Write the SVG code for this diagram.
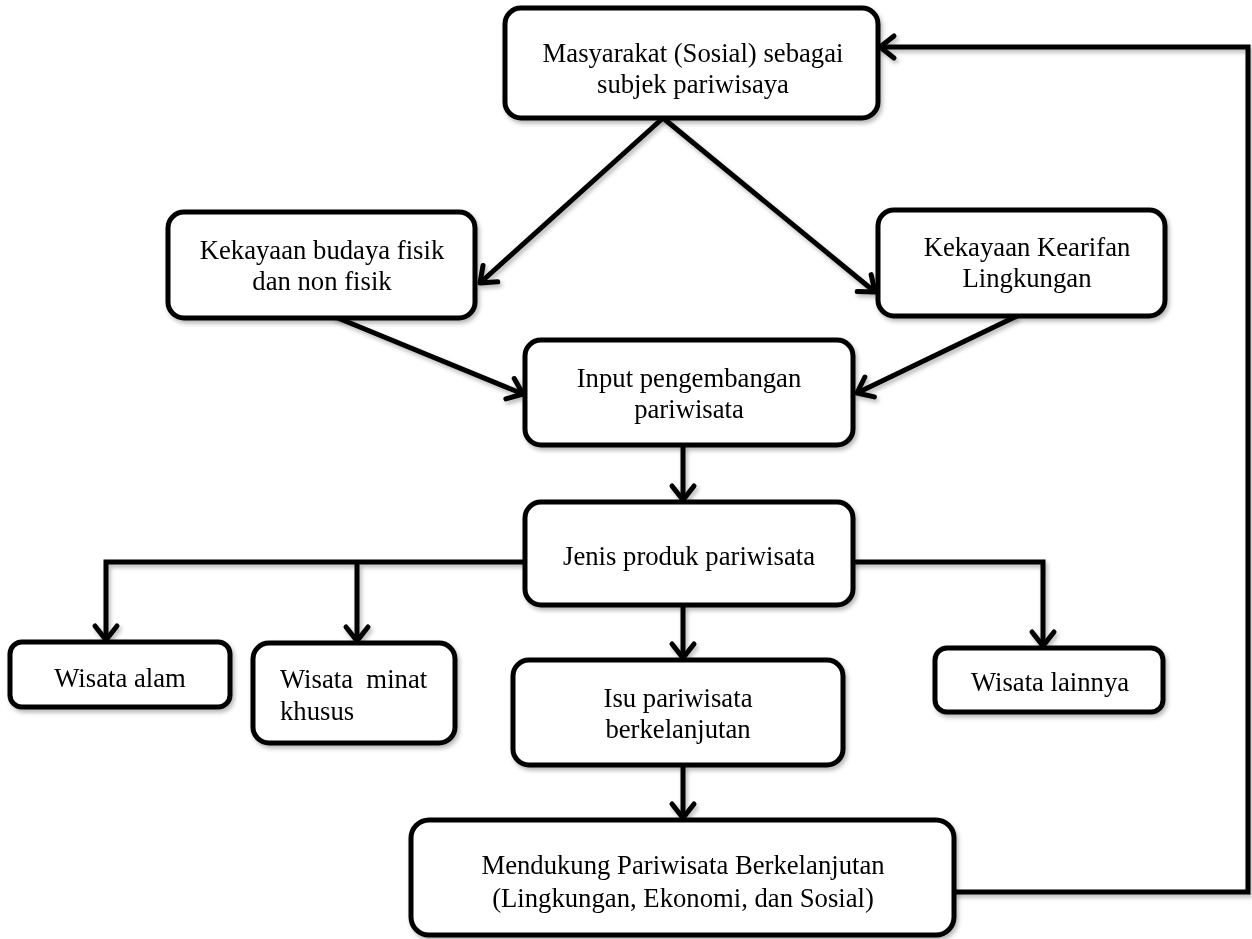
<svg xmlns="http://www.w3.org/2000/svg" width="1252" height="939" viewBox="0 0 1252 939">
  <style>
    .box { fill: #ffffff; stroke: #000000; stroke-width: 5; }
    .conn { fill: none; stroke: #000000; stroke-width: 5; stroke-linejoin: miter; }
    .t { font-family: "Liberation Serif", "Times New Roman", serif; font-size: 26.7px; fill: #000000; }
    .c { text-anchor: middle; }
  </style>
  <defs>
    <filter id="sh" x="-10%" y="-10%" width="130%" height="130%">
      <feDropShadow dx="2" dy="3" stdDeviation="2" flood-color="#000000" flood-opacity="0.28"/>
    </filter>
    <marker id="arr" markerUnits="userSpaceOnUse" markerWidth="24" markerHeight="28" viewBox="0 0 24 28" refX="19" refY="14" orient="auto" style="overflow:visible">
      <path d="M5,3 L19,14 L5,25" fill="none" stroke="#000000" stroke-width="5" stroke-linecap="round" stroke-linejoin="round"/>
    </marker>
  </defs>

  <g id="connectors" filter="url(#sh)">
    <line class="conn" x1="663" y1="118" x2="480" y2="283" marker-end="url(#arr)"/>
    <line class="conn" x1="663" y1="118" x2="875" y2="292" marker-end="url(#arr)"/>
    <line class="conn" x1="333" y1="316" x2="523" y2="394" marker-end="url(#arr)"/>
    <line class="conn" x1="1017" y1="316" x2="857" y2="393" marker-end="url(#arr)"/>
    <line class="conn" x1="683" y1="445" x2="683" y2="500" marker-end="url(#arr)"/>
    <polyline class="conn" points="525,562 106,562 106,640" marker-end="url(#arr)"/>
    <line class="conn" x1="357" y1="562" x2="357" y2="641" marker-end="url(#arr)"/>
    <polyline class="conn" points="853,562 1043,562 1043,646" marker-end="url(#arr)"/>
    <line class="conn" x1="683" y1="605" x2="683" y2="658" marker-end="url(#arr)"/>
    <line class="conn" x1="683" y1="765" x2="683" y2="818" marker-end="url(#arr)"/>
    <polyline class="conn" points="954,892 1248,892 1248,47 880,47" marker-end="url(#arr)"/>
  </g>

  <g id="masyarakat" filter="url(#sh)">
    <rect class="box" x="505" y="8" width="373" height="110" rx="16"/>
    <text class="t c" x="693" y="62">Masyarakat (Sosial) sebagai</text>
    <text class="t c" x="693" y="93">subjek pariwisaya</text>
  </g>

  <g id="budaya" filter="url(#sh)">
    <rect class="box" x="168" y="212" width="307" height="106" rx="16"/>
    <text class="t c" x="322" y="259">Kekayaan budaya fisik</text>
    <text class="t c" x="322" y="290">dan non fisik</text>
  </g>

  <g id="kearifan" filter="url(#sh)">
    <rect class="box" x="878" y="210" width="287" height="106" rx="16"/>
    <text class="t c" x="1027" y="256">Kekayaan Kearifan</text>
    <text class="t c" x="1027" y="287">Lingkungan</text>
  </g>

  <g id="input" filter="url(#sh)">
    <rect class="box" x="525" y="340" width="328" height="105" rx="16"/>
    <text class="t c" x="689" y="387">Input pengembangan</text>
    <text class="t c" x="689" y="418">pariwisata</text>
  </g>

  <g id="jenis" filter="url(#sh)">
    <rect class="box" x="525" y="502" width="328" height="103" rx="16"/>
    <text class="t c" x="689" y="565">Jenis produk pariwisata</text>
  </g>

  <g id="wisata-alam" filter="url(#sh)">
    <rect class="box" x="10" y="642" width="220" height="65" rx="12"/>
    <text class="t c" x="120" y="687">Wisata alam</text>
  </g>

  <g id="wisata-minat" filter="url(#sh)">
    <rect class="box" x="253" y="643" width="202" height="100" rx="16"/>
    <text class="t" x="280" y="688" xml:space="preserve">Wisata  minat</text>
    <text class="t" x="280" y="720">khusus</text>
  </g>

  <g id="isu" filter="url(#sh)">
    <rect class="box" x="513" y="660" width="330" height="105" rx="16"/>
    <text class="t c" x="678" y="707">Isu pariwisata</text>
    <text class="t c" x="678" y="738">berkelanjutan</text>
  </g>

  <g id="wisata-lainnya" filter="url(#sh)">
    <rect class="box" x="935" y="648" width="228" height="64" rx="12"/>
    <text class="t c" x="1050" y="691">Wisata lainnya</text>
  </g>

  <g id="mendukung" filter="url(#sh)">
    <rect class="box" x="411" y="820" width="543" height="115" rx="18"/>
    <text class="t c" x="683" y="874">Mendukung Pariwisata Berkelanjutan</text>
    <text class="t c" x="683" y="907">(Lingkungan, Ekonomi, dan Sosial)</text>
  </g>
</svg>
